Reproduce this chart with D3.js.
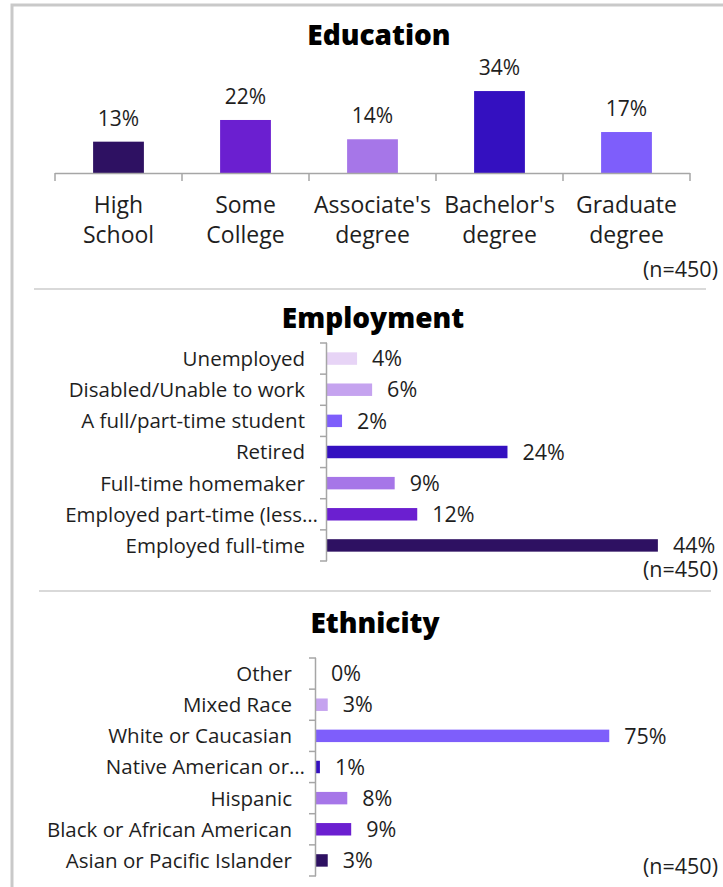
<!DOCTYPE html>
<html>
<head>
<meta charset="utf-8">
<script src="https://cdn.jsdelivr.net/npm/d3@7"></script>
<style>
  html, body { margin: 0; padding: 0; background: #fff; }
  svg { display: block; font-family: "Open Sans", "Noto Sans", sans-serif; }
</style>
</head>
<body>
<svg id="chart" width="723" height="887"></svg>
<script>
// ---------- data ----------
const eduCategories = ["High School", "Some College", "Associate's degree", "Bachelor's degree", "Graduate degree"];
const eduLabelLines = [["High", "School"], ["Some", "College"], ["Associate's", "degree"], ["Bachelor's", "degree"], ["Graduate", "degree"]];
const eduValues = [13, 22, 14, 34, 17];

const empCategories = ["Unemployed", "Disabled/Unable to work", "A full/part-time student", "Retired", "Full-time homemaker", "Employed part-time (less…", "Employed full-time"];
const empValues = [4, 6, 2, 24, 9, 12, 44];

const ethCategories = ["Other", "Mixed Race", "White or Caucasian", "Native American or…", "Hispanic", "Black or African American", "Asian or Pacific Islander"];
const ethValues = [0, 3, 75, 1, 8, 9, 3];

const sampleLabel = "(n=450)";

// ---------- styles ----------
const C = {
  dark: "#2e1162", purple: "#6b1fd0", lavender: "#a676e8", blue: "#3410c0",
  peri: "#7e5efb", lilac: "#c5a3ef", pale: "#e7d4f6"
};
const eduColors = [C.dark, C.purple, C.lavender, C.blue, C.peri];
const empColors = [C.pale, C.lilac, C.peri, C.blue, C.lavender, C.purple, C.dark];
const ethColors = [C.pale, C.lilac, C.peri, C.blue, C.lavender, C.purple, C.dark];
const textColor = "#1e1e1e";
const axisColor = "#a6a6a6";

const svg = d3.select("#chart");

// frame
svg.append("path").attr("d", "M12,887 V5 H723").attr("fill", "none")
  .attr("stroke", "#c9c9c9").attr("stroke-width", 3);

// separators
svg.append("line").attr("x1", 34).attr("x2", 706).attr("y1", 289).attr("y2", 289)
  .attr("stroke", "#d9d9d9").attr("stroke-width", 2);
svg.append("line").attr("x1", 39).attr("x2", 711).attr("y1", 591).attr("y2", 591)
  .attr("stroke", "#d9d9d9").attr("stroke-width", 2);

function title(text, x, y) {
  svg.append("text").attr("x", x).attr("y", y).attr("text-anchor", "middle")
    .attr("font-size", 28).attr("font-weight", 800).attr("fill", "#000").text(text);
}
function nLabel(y) {
  svg.append("text").attr("x", 718).attr("y", y).attr("text-anchor", "end")
    .attr("font-size", 21.5).attr("fill", textColor).text(sampleLabel);
}

// ---------- Education (vertical bars) ----------
title("Education", 379, 45);
{
  const x = d3.scaleBand().domain(eduCategories).range([55, 690]).paddingInner(0.6).paddingOuter(0.3);
  const y = d3.scaleLinear().domain([0, 40]).range([173, 76.6]);
  const g = svg.append("g");
  g.selectAll("rect").data(eduValues).join("rect")
    .attr("x", (d, i) => x(eduCategories[i]))
    .attr("y", d => y(d))
    .attr("width", x.bandwidth())
    .attr("height", d => y(0) - y(d))
    .attr("fill", (d, i) => eduColors[i]);
  g.selectAll("text.val").data(eduValues).join("text").attr("class", "val")
    .attr("x", (d, i) => x(eduCategories[i]) + x.bandwidth() / 2)
    .attr("y", d => y(d) - 16)
    .attr("text-anchor", "middle").attr("font-size", 21).attr("fill", textColor)
    .text(d => d + "%");
  // axis line and boundary ticks
  const step = x.step();
  const bounds = eduCategories.map(c => x(c) + x.bandwidth() / 2 - step / 2);
  bounds.push(x(eduCategories[eduCategories.length - 1]) + x.bandwidth() / 2 + step / 2);
  g.append("line").attr("x1", bounds[0]).attr("x2", bounds[bounds.length - 1])
    .attr("y1", y(0) + 0.5).attr("y2", y(0) + 0.5).attr("stroke", axisColor).attr("stroke-width", 1.5);
  g.selectAll("line.tick").data(bounds).join("line").attr("class", "tick")
    .attr("x1", d => d).attr("x2", d => d).attr("y1", y(0)).attr("y2", y(0) + 8)
    .attr("stroke", axisColor).attr("stroke-width", 1.5);
  const lbl = g.selectAll("text.cat").data(eduLabelLines).join("text").attr("class", "cat")
    .attr("text-anchor", "middle").attr("font-size", 23).attr("fill", textColor);
  lbl.each(function (lines, i) {
    const cx = x(eduCategories[i]) + x.bandwidth() / 2;
    d3.select(this).selectAll("tspan").data(lines).join("tspan")
      .attr("x", cx).attr("y", (d, j) => y(0) + 40 + j * 30).text(d => d);
  });
}
nLabel(277);

// ---------- horizontal bar helper ----------
function hbar(cats, vals, colors, top, bottom, x0, pxPerPct, labelRight) {
  const y = d3.scaleBand().domain(cats).range([top, bottom]).paddingInner(0.6).paddingOuter(0.3);
  const x = d3.scaleLinear().domain([0, 100]).range([x0, x0 + pxPerPct * 100]);
  const g = svg.append("g");
  g.selectAll("rect").data(vals).join("rect")
    .attr("x", x(0)).attr("y", (d, i) => y(cats[i]))
    .attr("width", d => x(d) - x(0)).attr("height", y.bandwidth())
    .attr("fill", (d, i) => colors[i]);
  g.selectAll("text.val").data(vals).join("text").attr("class", "val")
    .attr("x", d => x(d) + 15)
    .attr("y", (d, i) => y(cats[i]) + y.bandwidth() / 2)
    .attr("dy", "0.36em").attr("font-size", 21.5).attr("fill", textColor)
    .text(d => d + "%");
  // truncated labels (ending with an ellipsis) overhang toward the axis, as in the original
  g.selectAll("text.cat").data(cats).join("text").attr("class", "cat")
    .attr("x", d => labelRight + (d.endsWith("…") ? 13 : 0))
    .attr("y", d => y(d) + y.bandwidth() / 2)
    .attr("dy", "0.36em").attr("text-anchor", "end").attr("font-size", 20.5).attr("fill", textColor)
    .text(d => d);
  // axis
  const step = y.step();
  const bounds = cats.map(c => y(c) + y.bandwidth() / 2 - step / 2);
  bounds.push(y(cats[cats.length - 1]) + y.bandwidth() / 2 + step / 2);
  g.append("line").attr("x1", x(0) - 0.5).attr("x2", x(0) - 0.5)
    .attr("y1", bounds[0]).attr("y2", bounds[bounds.length - 1])
    .attr("stroke", axisColor).attr("stroke-width", 1.5);
  g.selectAll("line.tick").data(bounds).join("line").attr("class", "tick")
    .attr("x1", x(0) - 7).attr("x2", x(0)).attr("y1", d => d).attr("y2", d => d)
    .attr("stroke", axisColor).attr("stroke-width", 1.5);
}

// ---------- Employment ----------
title("Employment", 373, 328);
hbar(empCategories, empValues, empColors, 343, 561, 327, 7.52, 305);
nLabel(577);

// ---------- Ethnicity ----------
title("Ethnicity", 375, 633);
hbar(ethCategories, ethValues, ethColors, 658, 876, 316, 3.91, 292);
nLabel(874);
</script>
</body>
</html>
